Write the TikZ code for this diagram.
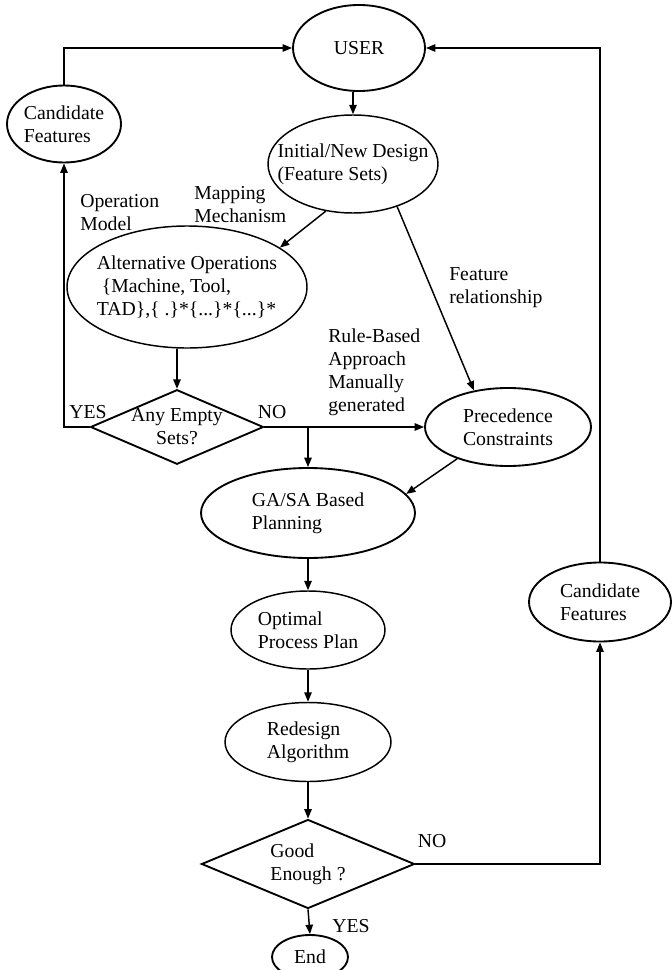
\documentclass[tikz,border=0pt]{standalone}
\usepackage{fontspec}
\setmainfont{Liberation Serif}
\usetikzlibrary{shapes.geometric,arrows.meta}
\tikzstyle{oval}=[draw,ellipse,line width=1.4pt,inner sep=-20pt,align=left]
\tikzstyle{thinoval}=[oval,line width=1.1pt]
\tikzstyle{decision}=[draw,diamond,line width=1.4pt,inner sep=-10pt,align=left]
\tikzstyle{note}=[inner sep=0pt,align=left]
\tikzstyle{arr}=[draw,line width=1.1pt,-{Triangle[length=7pt,width=5.5pt]}]
\tikzset{dims/.style 2 args={minimum width=#1*0.75pt,minimum height=#2*0.75pt}}

\begin{document}
\begin{tikzpicture}[x=0.75pt,y=-0.75pt,every node/.style={font=\fontsize{14.8}{17.3}\selectfont}]
    \useasboundingbox (0,0) rectangle (671,970);
    % noeuds
    \node[oval,dims={132}{86}] (user) at (359,48) {USER};
    \node[oval,dims={114}{77}] (candleft) at (64,124) {Candidate\\Features};
    \node[thinoval,dims={170}{98}] (design) at (353,164) {Initial/New Design\\(Feature Sets)};
    \node[thinoval,dims={240}{122}] (altops) at (187,287) {Alternative Operations\\~\{Machine, Tool,\\TAD\},\{ .\}*\{...\}*\{...\}*};
    \node[decision,dims={173}{73},align=center] (empty) at (177,427) {Any Empty\\Sets?};
    \node[oval,dims={166}{78}] (prec) at (508,427) {Precedence\\Constraints};
    \node[oval,dims={214}{90}] (plan) at (308,513) {GA/SA Based\\Planning};
    \node[thinoval,dims={154}{78}] (optimal) at (308,630) {Optimal\\Process Plan};
    \node[thinoval,dims={166}{79}] (redesign) at (308,742) {Redesign\\Algorithm};
    \node[decision,dims={213}{89}] (good) at (308,864) {Good\\Enough ?};
    \node[oval,dims={142}{79}] (candright) at (600,602) {Candidate\\Features};
    \node[oval,dims={76}{44}] (theend) at (310,957) {End};
    % textes
    \node[note,anchor=west] (opmodel) at (80,213) {Operation\\Model};
    \node[note,anchor=west] (mapping) at (194,205) {Mapping\\Mechanism};
    \node[note,anchor=west] (featrel) at (449,288) {Feature\\relationship};
    \node[note,anchor=west] (rulebased) at (328,372) {Rule-Based\\Approach\\Manually\\generated};
    \node[note] (yesleft) at (88,412) {YES};
    \node[note] (noleft) at (272,412) {NO};
    \node[note] (noright) at (432,841) {NO};
    \node[note] (yesdown) at (351,926) {YES};
    % fleches
    \draw[arr] (user.south -| design.north) -- (design.north);
    \draw[arr] (candleft.north) |- (user.west);
    \draw[arr] (candright.north) |- (user.east);
    \draw[arr] (design.240) -- (altops.23);
    \draw[arr] (design.-44) -- (prec.133);
    \draw[arr] (altops.south -| empty.north) -- (empty.north);
    \draw[arr] (empty.west) -| (candleft.south);
    \draw[arr] (empty.east) -- (prec.west);
    \coordinate (split) at (plan.north |- empty.east);
    \draw[arr] (split) -- (plan.north);
    \draw[arr] (prec.212) -- (plan.11);
    \foreach \a/\b in {plan/optimal, optimal/redesign, redesign/good, good/theend}
        \draw[arr] (\a.south) -- (\b.north);
    \draw[arr] (good.east) -| (candright.south);
\end{tikzpicture}
\end{document}
